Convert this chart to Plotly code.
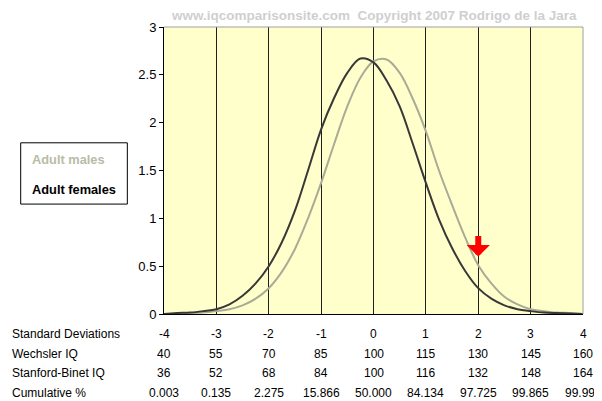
import plotly.graph_objects as go

# ---- data ----
sd_points = [-4, -3.75, -3.5, -3.25, -3, -2.75, -2.5, -2.25, -2, -1.75, -1.5, -1.25,
             -1, -0.75, -0.5, -0.25, 0, 0.25, 0.5, 0.75, 1, 1.25, 1.5, 1.75,
             2, 2.25, 2.5, 2.75, 3, 3.25, 3.5, 3.75, 4]
females = [0.00, 0.01, 0.015, 0.03, 0.05, 0.10, 0.19, 0.32, 0.50, 0.75, 1.08, 1.50,
           1.93, 2.26, 2.52, 2.67, 2.63, 2.44, 2.17, 1.78, 1.37, 0.99, 0.69, 0.45,
           0.27, 0.16, 0.09, 0.05, 0.03, 0.015, 0.01, 0.005, 0.00]
males = [0.00, 0.005, 0.01, 0.015, 0.03, 0.05, 0.09, 0.16, 0.27, 0.44, 0.68, 1.00,
         1.37, 1.78, 2.17, 2.47, 2.64, 2.66, 2.52, 2.25, 1.91, 1.50, 1.14, 0.80,
         0.51, 0.32, 0.18, 0.10, 0.05, 0.03, 0.015, 0.01, 0.00]

table_sd = [-4, -3, -2, -1, 0, 1, 2, 3, 4]
row_labels = ["Standard Deviations", "Wechsler IQ", "Stanford-Binet IQ", "Cumulative %"]
sd_labels = ["-4", "-3", "-2", "-1", "0", "1", "2", "3", "4"]
wechsler = ["40", "55", "70", "85", "100", "115", "130", "145", "160"]
stanford = ["36", "52", "68", "84", "100", "116", "132", "148", "164"]
cumulative = ["0.003", "0.135", "2.275", "15.866", "50.000", "84.134", "97.725", "99.865", "99.997"]

arrow_sd = 2
arrow_value = 0.60

title_text = "www.iqcomparisonsite.com  Copyright 2007 Rodrigo de la Jara"
legend_items = ["Adult males", "Adult females"]

FONT = "Liberation Sans, Arial, sans-serif"
MALE_COLOR = "#a9ab96"
FEMALE_COLOR = "#383838"

fig = go.Figure()
fig.add_trace(go.Scatter(x=sd_points, y=males, mode="lines", line=dict(color=MALE_COLOR, width=2, shape="spline"),
                         name=legend_items[0], showlegend=False, hoverinfo="skip"))
fig.add_trace(go.Scatter(x=sd_points, y=females, mode="lines", line=dict(color=FEMALE_COLOR, width=2, shape="spline"),
                         name=legend_items[1], showlegend=False, hoverinfo="skip"))

annotations = []
# table below chart
rows = [sd_labels, wechsler, stanford, cumulative]
row_shifts = [-20, -39.5, -59, -78.5]
for label, vals, ys in zip(row_labels, rows, row_shifts):
    annotations.append(dict(x=-0.3675, xref="paper", y=0, yref="y", yshift=ys, text=label,
                            showarrow=False, xanchor="left", yanchor="middle",
                            font=dict(family=FONT, size=12, color="#000")))
    for sd, v in zip(table_sd, vals):
        annotations.append(dict(x=sd, xref="x", y=0, yref="y", yshift=ys, text=v,
                                showarrow=False, xanchor="center", yanchor="middle",
                                font=dict(family=FONT, size=12, color="#000")))

# title watermark
annotations.append(dict(x=0.5, xref="paper", y=1, yref="paper", yshift=12, text="<b>" + title_text + "</b>",
                        showarrow=False, xanchor="center", yanchor="middle",
                        font=dict(family=FONT, size=13.5, color="#cfcfcf")))

# legend texts
annotations.append(dict(x=-0.3198, xref="paper", y=0.539, yref="paper", text="<b>" + legend_items[0] + "</b>",
                        showarrow=False, xanchor="left", yanchor="middle",
                        font=dict(family=FONT, size=12.8, color="#b9bca6")))
annotations.append(dict(x=-0.3198, xref="paper", y=0.433, yref="paper", text="<b>" + legend_items[1] + "</b>",
                        showarrow=False, xanchor="left", yanchor="middle",
                        font=dict(family=FONT, size=12.8, color="#000")))

# red arrow
annotations.append(dict(x=arrow_sd, xref="x", y=arrow_value, yref="y", ax=0, ay=-22, axref="pixel", ayref="pixel",
                        showarrow=True, arrowhead=1, arrowsize=0.65, arrowwidth=6, arrowcolor="#ff0000",
                        text=""))

shapes = [
    dict(type="rect", xref="paper", yref="paper", x0=-0.342, x1=-0.0875, y0=0.383, y1=0.5965,
         line=dict(color="#000", width=1), fillcolor="rgba(0,0,0,0)"),
    dict(type="line", xref="paper", yref="paper", x0=0, x1=1, y0=1, y1=1, line=dict(color="#a0a0a0", width=1)),
    dict(type="line", xref="paper", yref="paper", x0=1, x1=1, y0=0, y1=1, line=dict(color="#a0a0a0", width=1)),
]

# page has an 8px body margin, so the figure is offset by 8px
fig.update_layout(
    width=594, height=393,
    margin=dict(l=156, r=19, t=17, b=87),
    paper_bgcolor="#ffffff",
    plot_bgcolor="#ffffcc",
    font=dict(family=FONT, size=13, color="#000"),
    annotations=annotations,
    shapes=shapes,
    showlegend=False,
)
fig.update_xaxes(range=[-4, 4], tick0=-4, dtick=1, showticklabels=False, showgrid=True,
                 gridcolor="#202020", gridwidth=1, zeroline=False, showline=True, linecolor="#000",
                 linewidth=1, ticks="")
fig.update_yaxes(range=[0, 3], tick0=0, dtick=0.5, showgrid=False, zeroline=False, showline=True,
                 linecolor="#000", linewidth=1, ticks="outside", ticklen=4, tickcolor="#000",
                 tickfont=dict(family=FONT, size=13, color="#000"))

fig.write_html("out.html")
